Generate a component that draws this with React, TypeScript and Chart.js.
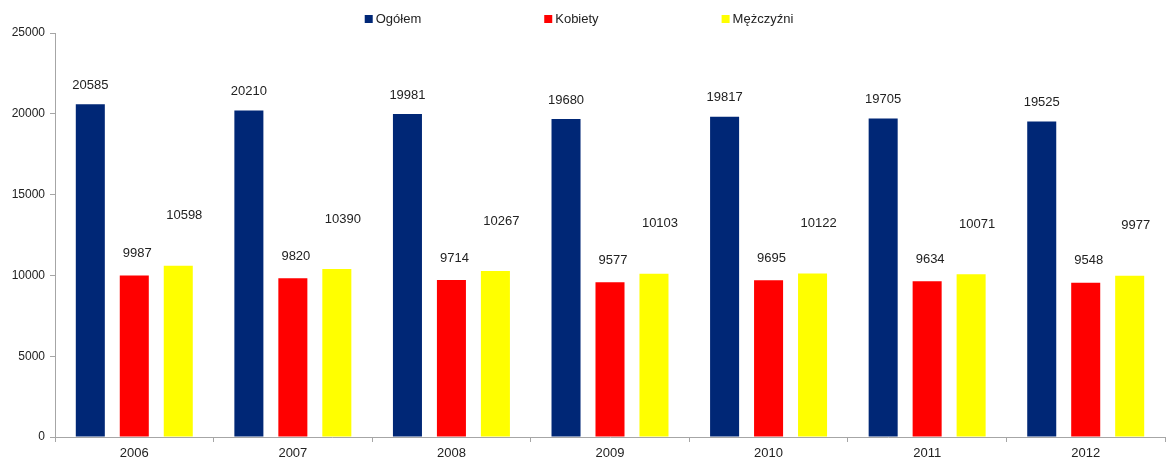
import React, { useEffect, useRef } from "react";
import { Chart, registerables } from "chart.js";

Chart.register(...registerables);

const years = ["2006", "2007", "2008", "2009", "2010", "2011", "2012"];
const seriesNames = ["Ogółem", "Kobiety", "Mężczyźni"];
const ogolem = [20585, 20210, 19981, 19680, 19817, 19705, 19525];
const kobiety = [9987, 9820, 9714, 9577, 9695, 9634, 9548];
const mezczyzni = [10598, 10390, 10267, 10103, 10122, 10071, 9977];
const yTicks = [0, 5000, 10000, 15000, 20000, 25000];

const colors = ["#002776", "#FF0000", "#FFFF00"];
// label offset above bar top (px), per series, and horizontal nudge
const labelLift = [19, 22, 50];
const labelShift = [0, 3, 6];
const FONT = "'Liberation Sans', Arial, sans-serif";
const TEXT = "#222222";
const AXIS = "#a6a6a6";

const labelsPlugin = {
  id: "customLabels",
  afterDatasetsDraw(chart: any) {
    const ctx = chart.ctx;
    ctx.save();
    ctx.font = `13px ${FONT}`;
    ctx.fillStyle = TEXT;
    ctx.textAlign = "center";
    ctx.textBaseline = "middle";
    chart.data.datasets.forEach((ds: any, di: number) => {
      const meta = chart.getDatasetMeta(di);
      meta.data.forEach((bar: any, i: number) => {
        ctx.fillText(String(ds.data[i]), bar.x + labelShift[di], bar.y - labelLift[di]);
      });
    });
    ctx.restore();
  },
  afterDraw(chart: any) {
    const ctx = chart.ctx;
    ctx.save();
    ctx.font = `13px ${FONT}`;
    ctx.textBaseline = "middle";
    const box = 8, gapBox = 3, gapItem = 123;
    const widths = seriesNames.map((n) => ctx.measureText(n).width);
    const total = widths.reduce((a, w) => a + box + gapBox + w, 0) + gapItem * (seriesNames.length - 1);
    let x = 579 - total / 2;
    const y = 19;
    seriesNames.forEach((n, i) => {
      ctx.fillStyle = colors[i];
      ctx.fillRect(x, y - box / 2, box, box);
      ctx.fillStyle = TEXT;
      ctx.textAlign = "left";
      ctx.fillText(n, x + box + gapBox, y);
      x += box + gapBox + widths[i] + gapItem;
    });
    ctx.restore();
  },
};

export default function App() {
  const ref = useRef<HTMLCanvasElement>(null);
  useEffect(() => {
    document.body.style.margin = "0";
    const chart = new Chart(ref.current!, {
      type: "bar",
      data: {
        labels: years,
        datasets: [ogolem, kobiety, mezczyzni].map((d, i) => ({
          label: seriesNames[i],
          data: d,
          backgroundColor: colors[i],
          borderWidth: 0,
          categoryPercentage: 0.832,
          barPercentage: 0.66,
        })),
      },
      options: {
        animation: false,
        responsive: false,
        maintainAspectRatio: false,
        layout: { padding: { top: 33, right: 3, left: 0, bottom: 0 } },
        plugins: {
          legend: { display: false },
          tooltip: { enabled: false },
        },
        scales: {
          x: {
            grid: {
              display: true,
              drawOnChartArea: false,
              drawTicks: true,
              tickLength: 5,
              color: AXIS,
              offset: true,
            },
            border: { display: true, color: AXIS, width: 1 },
            ticks: { color: TEXT, font: { family: FONT, size: 13 }, padding: 4 },
            afterFit: (s: any) => {
              s.height = 22;
            },
          },
          y: {
            min: 0,
            max: 25000,
            afterBuildTicks: (s: any) => {
              s.ticks = yTicks.map((v) => ({ value: v }));
            },
            grid: {
              display: true,
              drawOnChartArea: false,
              drawTicks: true,
              tickLength: 5,
              color: AXIS,
            },
            border: { display: true, color: AXIS, width: 1 },
            ticks: {
              color: TEXT,
              font: { family: FONT, size: 12 },
              padding: 5,
              callback: (v: any) => String(v),
            },
            afterFit: (s: any) => {
              s.width = 55;
            },
          },
        },
      },
      plugins: [labelsPlugin],
    });
    return () => chart.destroy();
  }, []);
  return (
    <div style={{ position: "absolute", left: 0, top: 0, width: 1168, height: 459 }}>
      <canvas ref={ref} width={1168} height={459} />
    </div>
  );
}
